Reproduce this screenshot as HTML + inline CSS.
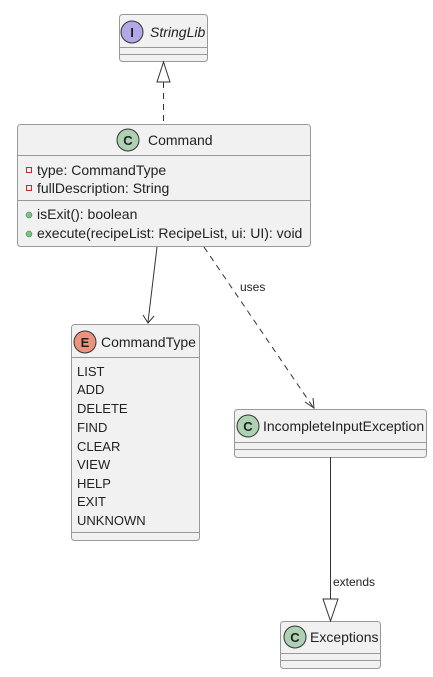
<!DOCTYPE html>
<html><head><meta charset="utf-8"><style>
html,body{margin:0;padding:0;background:#fff;}
svg{display:block;}
text{font-family:"Liberation Sans",sans-serif;fill:#222;}
</style></head><body>
<svg width="433" height="677" viewBox="0 0 433 677" xmlns="http://www.w3.org/2000/svg">
<g stroke="#999" stroke-width="1" fill="#f1f1f1">
<rect x="119.5" y="14.5" width="88" height="47" rx="3"/>
<rect x="17.5" y="124.5" width="293" height="122" rx="3"/>
<rect x="71.5" y="324.5" width="128" height="216" rx="3"/>
<rect x="234.5" y="409.5" width="192" height="48" rx="3"/>
<rect x="280.5" y="621.5" width="100" height="47" rx="3"/>
</g>
<g stroke="#999" stroke-width="1">
<line x1="119.5" y1="47.5" x2="207.5" y2="47.5"/><line x1="119.5" y1="54.5" x2="207.5" y2="54.5"/>
<line x1="17.5" y1="155.5" x2="310.5" y2="155.5"/><line x1="17.5" y1="200.5" x2="310.5" y2="200.5"/>
<line x1="71.5" y1="357.5" x2="199.5" y2="357.5"/><line x1="71.5" y1="532.5" x2="199.5" y2="532.5"/>
<line x1="234.5" y1="442.5" x2="426.5" y2="442.5"/><line x1="234.5" y1="449.5" x2="426.5" y2="449.5"/>
<line x1="280.5" y1="653.5" x2="380.5" y2="653.5"/><line x1="280.5" y1="660.5" x2="380.5" y2="660.5"/>
</g>
<g stroke="#333" stroke-width="1">
<circle cx="132" cy="32" r="11" fill="#b4a7e5"/>
<circle cx="128" cy="140" r="11" fill="#add1b2"/>
<circle cx="85" cy="342" r="11" fill="#eb937f"/>
<circle cx="248" cy="426" r="11" fill="#add1b2"/>
<circle cx="295" cy="637" r="11" fill="#add1b2"/>
</g>
<g font-weight="bold" font-size="13" text-anchor="middle" style="font-family:'Liberation Mono',monospace">
<text x="132" y="37">I</text><text x="128" y="145">C</text><text x="85" y="347">E</text><text x="248" y="431">C</text><text x="295" y="642">C</text>
</g>
<text x="150" y="37" font-size="14" font-style="italic">StringLib</text>
<text x="148" y="145" font-size="14">Command</text>
<text x="101" y="347" font-size="14">CommandType</text>
<text x="263" y="431" font-size="14">IncompleteInputException</text>
<text x="310" y="642" font-size="14">Exceptions</text>
<rect x="26.5" y="167.5" width="5" height="5" fill="none" stroke="#c82930"/>
<rect x="26.5" y="185.5" width="5" height="5" fill="none" stroke="#c82930"/>
<circle cx="29" cy="215" r="3" fill="#84be84" stroke="#038048" stroke-width="0.5"/>
<circle cx="29" cy="234" r="3" fill="#84be84" stroke="#038048" stroke-width="0.5"/>
<g font-size="14">
<text x="37" y="175">type: CommandType</text>
<text x="37" y="193">fullDescription: String</text>
<text x="37" y="219">isExit(): boolean</text>
<text x="37" y="238">execute(recipeList: RecipeList, ui: UI): void</text>
</g>
<g font-size="13">
<text x="77" y="376">LIST</text><text x="77" y="394">ADD</text><text x="77" y="413">DELETE</text>
<text x="77" y="432">FIND</text><text x="77" y="451">CLEAR</text><text x="77" y="469">VIEW</text>
<text x="77" y="488">HELP</text><text x="77" y="506">EXIT</text><text x="77" y="525">UNKNOWN</text>
</g>
<g stroke="#333" stroke-width="1" fill="none">
<line x1="163.5" y1="82" x2="163.5" y2="124" stroke-dasharray="6,5"/>
<polygon points="163.5,62 157,82 170,82" fill="#fff"/>
<line x1="157" y1="247" x2="148" y2="322"/>
<polyline points="143,315 148,323 154,316" fill="none"/>
<line x1="204" y1="247" x2="313" y2="407" stroke-dasharray="6,5"/>
<polyline points="305,402 314,408 313,398"/>
<line x1="330.5" y1="457" x2="330.5" y2="599"/>
<polygon points="330.5,621 323,599 338,599" fill="#fff"/>
</g>
<text x="240" y="291" font-size="12">uses</text>
<text x="333" y="586" font-size="12">extends</text>
</svg>
</body></html>
